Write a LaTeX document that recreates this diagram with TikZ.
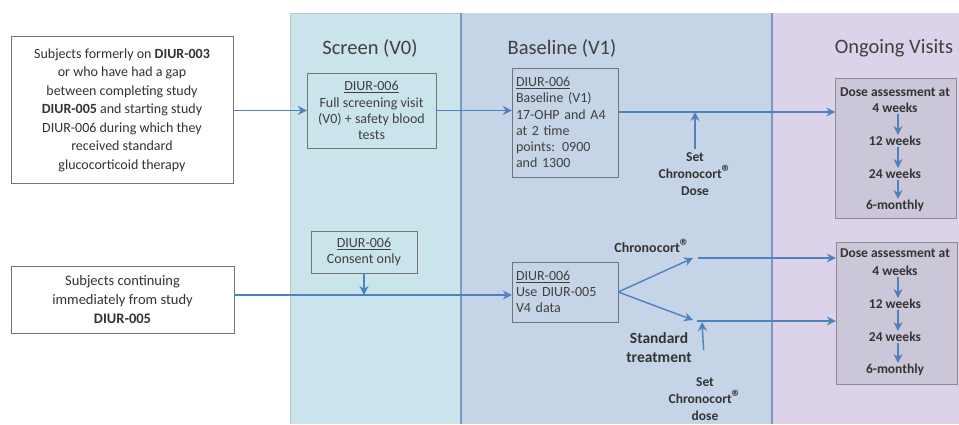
\documentclass[tikz,border=0pt]{standalone}
\usepackage{fontspec}
\setmainfont{Carlito}
\usetikzlibrary{arrows.meta}
\definecolor{arrowblue}{HTML}{4F81BD}
\definecolor{screenbg}{HTML}{C9E4EB}
\definecolor{basebg}{HTML}{C6D4E8}
\definecolor{ongbg}{HTML}{DCD3EA}
\definecolor{ongbox}{HTML}{CBC6D8}
\definecolor{divline}{HTML}{7A9AC6}
\newcommand{\regmark}{{\fontsize{19}{19}\selectfont\textregistered}}
\tikzstyle{subj} = [rectangle, draw=black!55, fill=white, align=center, font=\fontsize{14}{18.5}\selectfont, text=black!80]
\tikzstyle{visit} = [rectangle, draw=black!55, inner sep=4pt, font=\fontsize{14}{16.3}\selectfont, text=black!75]
\tikzstyle{dosebox} = [rectangle, draw=black!45, fill=ongbox, minimum width=121pt]
\tikzstyle{wk} = [inner sep=1pt, font=\fontsize{13.5}{15}\selectfont\bfseries, text=black!80]
\tikzstyle{lbl} = [align=center, font=\fontsize{13.5}{17}\selectfont\bfseries, text=black!80]
\tikzstyle{phase} = [font=\fontsize{20.5}{22}\selectfont, text=black!75]
\tikzstyle{arrow} = [->, >={Stealth[length=9pt,width=9pt,inset=3pt]}, draw=arrowblue, line width=1.4pt]

\begin{document}
\begin{tikzpicture}[x=1pt, y=-1pt]
\useasboundingbox (0,0) rectangle (959,424);

% phase columns
\fill[screenbg] (290,13) rectangle (461,424);
\draw[screenbg!70!black!60, line width=0.6pt] (290,424) -- (290,13) -- (461,13);
\fill[basebg] (461,13) rectangle (772,424);
\fill[ongbg] (772,13) rectangle (959,424);
\draw[divline, line width=1.2pt] (461,13) -- (461,424);
\draw[divline, line width=1.2pt] (772,13) -- (772,424);

\node (scr) [phase] at (370,48) {Screen (V0)};
\node (bas) [phase] at (562,48) {Baseline (V1)};
\node (ong) [phase] at (894,48) {Ongoing Visits};

% upper route
\node (sub1) [subj, minimum width=222pt, minimum height=147pt] at (122,110) {Subjects formerly on \textbf{DIUR-003}\\ or who have had a gap\\ between completing study\\ \textbf{DIUR-005} and starting study\\ DIUR-006 during which they\\ received standard\\ glucocorticoid therapy};
\node (scr1) [visit, align=center, minimum width=129pt, minimum height=75pt] at (371.5,110.5) {\underline{DIUR-006}\\ Full screening visit\\ (V0) + safety blood\\ tests};
\node (bas1) [visit, align=left, text width=98pt, minimum width=106pt, minimum height=109pt] at (565,122.5) {\underline{DIUR-006}\\ Baseline (V1)\\ 17-OHP and A4\\ at 2 time\\ points: 0900\\ and 1300};
\node (set1) [lbl] at (695,174) {Set\\ Chronocort\regmark\\ Dose};
\coordinate (sd1) at (695,112);

\node (ong1) [dosebox, minimum height=140pt] at (896,148) {};
\node (da1) [wk] at (895,92) {Dose assessment at};
\node (w4a) [wk] at (895,108) {4 weeks};
\node (w12a) [wk] at (895,141) {12 weeks};
\node (w24a) [wk] at (895,174) {24 weeks};
\node (m6a) [wk] at (895,206) {6-monthly};

% lower route
\node (sub2) [subj, font=\fontsize{14.5}{19}\selectfont, minimum width=223pt, minimum height=67pt] at (122.5,299.5) {Subjects continuing\\ immediately from study\\ \textbf{DIUR-005}};
\node (con) [visit, align=center, minimum width=106pt, minimum height=42pt] at (364,252) {\underline{DIUR-006}\\ Consent only};
\coordinate (j2) at (364,295);
\node (bas2) [visit, align=left, text width=98pt, minimum width=106pt, minimum height=60pt] at (565,292) {\underline{DIUR-006}\\ Use DIUR-005\\ V4 data};
\coordinate (br1) at (693,258);
\coordinate (br2) at (693,320);
\coordinate (hz1) at (698,258);
\coordinate (hz2) at (697,321);
\coordinate (sd2) at (702,322);
\node (chr) [lbl, font=\fontsize{14}{16}\selectfont\bfseries] at (652,246) {Chronocort\regmark};
\node (std) [lbl, font=\fontsize{15.5}{19}\selectfont\bfseries] at (659,348) {Standard\\ treatment};
\node (set2) [lbl] at (705,399) {Set\\ Chronocort\regmark\\ dose};

\node (ong2) [dosebox, minimum height=142pt] at (896.5,313) {};
\node (da2) [wk] at (895,253) {Dose assessment at};
\node (w4b) [wk] at (895,271) {4 weeks};
\node (w12b) [wk] at (895,304) {12 weeks};
\node (w24b) [wk] at (895,337) {24 weeks};
\node (m6b) [wk] at (895,370) {6-monthly};

% connectors
\draw [arrow] (sub1.east |- scr1.west) -- (scr1.west);
\draw [arrow] (scr1.east) -- (bas1.west |- scr1.east);
\draw [arrow] (bas1.east |- sd1) -- (ong1.west |- sd1);
\draw [arrow] (set1) -- (sd1);
\draw [arrow] ([xshift=3pt]w4a.south) -- ([xshift=3pt]w12a.north);
\draw [arrow] ([xshift=3pt]w12a.south) -- ([xshift=3pt]w24a.north);
\draw [arrow] ([xshift=3pt]w24a.south) -- ([xshift=3pt]m6a.north);

\draw [arrow] (sub2.east |- j2) -- (bas2.west |- j2);
\draw [arrow] (con) -- (j2);
\draw [arrow] (bas2.east) -- (br1);
\draw [arrow] (bas2.east) -- (br2);
\draw [arrow] (hz1) -- (ong2.west |- hz1);
\draw [arrow] (hz2) -- (ong2.west |- hz2);
\draw [arrow, shorten <=24pt] (set2.north) -- (sd2);
\draw [arrow] ([xshift=3pt]w4b.south) -- ([xshift=3pt]w12b.north);
\draw [arrow] ([xshift=3pt]w12b.south) -- ([xshift=3pt]w24b.north);
\draw [arrow] ([xshift=3pt]w24b.south) -- ([xshift=3pt]m6b.north);

\end{tikzpicture}
\end{document}
